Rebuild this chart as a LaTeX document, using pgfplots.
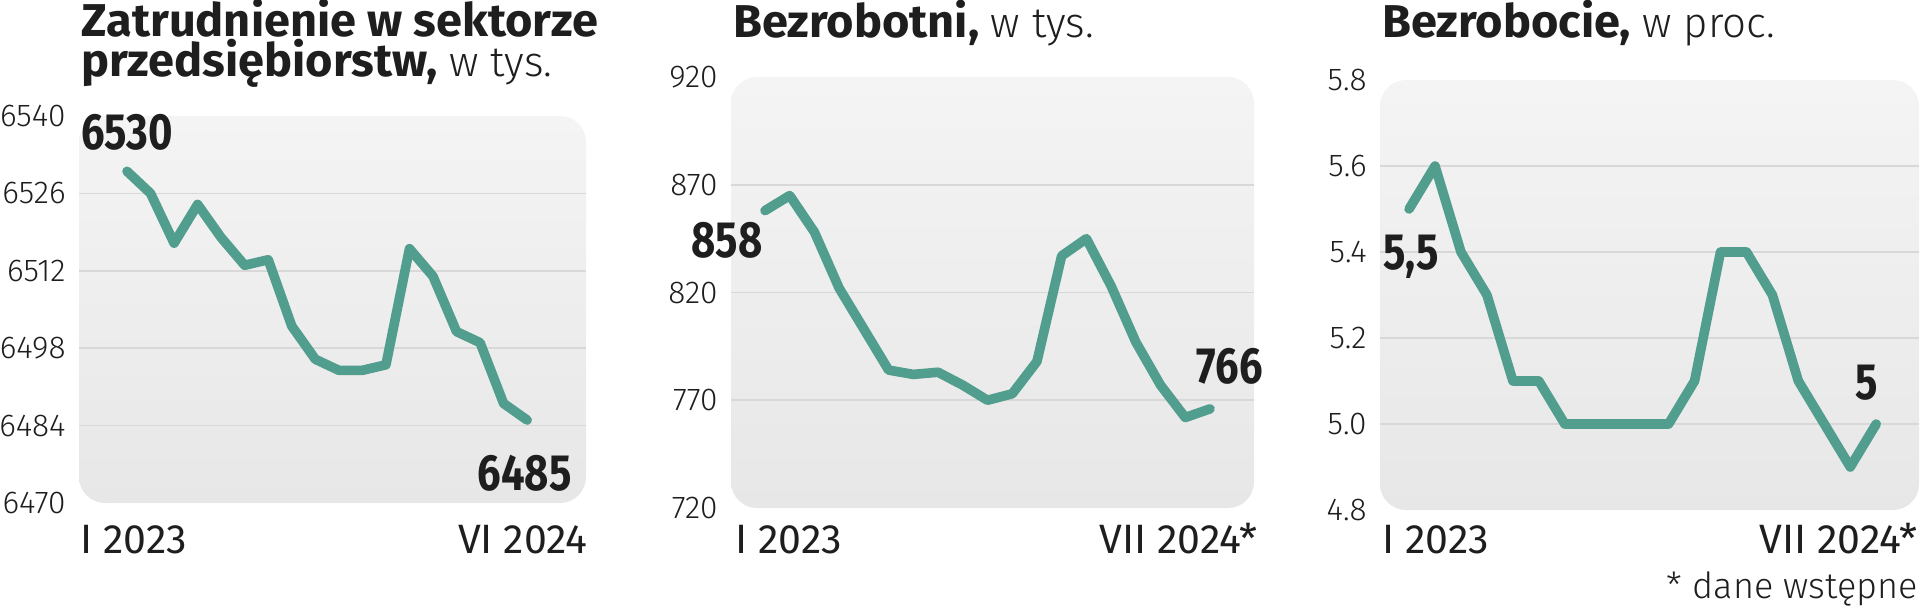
\documentclass[border=0pt]{standalone}
\usepackage{pgfplots}
\pgfplotsset{compat=1.18}
\usepackage{fontspec}
\setmainfont{Fira Sans}
\newfontfamily\lightfont{Fira Sans Light}
\newfontfamily\condfont[FakeStretch=0.82]{Fira Sans}
\newfontfamily\titlefont[FakeStretch=1.02]{Fira Sans}
\definecolor{linec}{HTML}{519D8E}
\definecolor{txt}{HTML}{1E1E1E}
\definecolor{gridc}{HTML}{D8D8D8}
\definecolor{bgtop}{HTML}{F4F4F4}
\definecolor{bgbot}{HTML}{E7E7E7}
\newcommand{\ttl}{\titlefont\bfseries\fontsize{23}{23}\selectfont}
\newcommand{\sub}{\lightfont\mdseries\fontsize{21}{21}\selectfont}
\newcommand{\bignum}{\condfont\bfseries\fontsize{25.5}{25.5}\selectfont}
\newcommand{\xl}{\fontsize{20.5}{20.5}\selectfont}
\pgfplotsset{panel/.style={
  scale only axis, clip=false,
  axis line style={draw=none}, tick style={draw=none}, major tick length=0pt,
  xtick=\empty,
  axis background/.style={shade, top color=bgtop, bottom color=bgbot, rounded corners=13pt, draw=none},
  yticklabel style={font=\lightfont\fontsize{15.8}{15.8}\selectfont, text=txt, anchor=east, inner sep=0pt, xshift=-6.5pt},
  extra y tick style={grid=major},
  extra y tick labels={},
  grid style={draw=gridc, line width=0.8pt},
}}
\begin{document}
\begin{tikzpicture}
\useasboundingbox (0,0) rectangle (960pt,303pt);
% Panel 1
\begin{axis}[panel, at={(39.5pt,51.5pt)}, anchor=south west, width=253.5pt, height=193.5pt,
  xmin=-2.04, xmax=19.5, ymin=6470, ymax=6540,
  ytick={6470,6484,6498,6512,6526,6540}, yticklabels={6470,6484,6498,6512,6526,6540},
  extra y ticks={6484,6498,6512,6526}]
\addplot[linec, line width=4.8pt, line join=round, line cap=round] coordinates {
(0,6530) (1,6526) (2,6517) (3,6524) (4,6518) (5,6513) (6,6514) (7,6502) (8,6496)
(9,6494) (10,6494) (11,6495) (12,6516) (13,6511) (14,6501) (15,6499) (16,6488) (17,6485)};
\end{axis}
% Panel 2
\begin{axis}[panel, at={(365.5pt,49pt)}, anchor=south west, width=261.5pt, height=215.5pt,
  xmin=-1.375, xmax=19.78, ymin=720, ymax=920,
  ytick={720,770,820,870,920}, yticklabels={720,770,820,870,920},
  extra y ticks={770,820,870}]
\addplot[linec, line width=4.8pt, line join=round, line cap=round] coordinates {
(0,858) (1,865) (2,848) (3,822) (4,803) (5,784) (6,782) (7,783) (8,777) (9,770)
(10,773) (11,788) (12,837) (13,845) (14,823) (15,797) (16,777) (17,762) (18,766)};
\end{axis}
% Panel 3
\begin{axis}[panel, at={(690pt,48pt)}, anchor=south west, width=269.5pt, height=215pt,
  xmin=-1.12, xmax=19.65, ymin=4.8, ymax=5.8,
  ytick={4.8,5.0,5.2,5.4,5.6,5.8}, yticklabels={4.8,5.0,5.2,5.4,5.6,5.8},
  extra y ticks={5.0,5.2,5.4,5.6}]
\addplot[linec, line width=4.8pt, line join=round, line cap=round] coordinates {
(0,5.5) (1,5.6) (2,5.4) (3,5.3) (4,5.1) (5,5.1) (6,5.0) (7,5.0) (8,5.0) (9,5.0)
(10,5.0) (11,5.1) (12,5.4) (13,5.4) (14,5.3) (15,5.1) (16,5.0) (17,4.9) (18,5.0)};
\end{axis}
% Titles
\node[anchor=base west, inner sep=0pt, text=txt] at (40.5pt,284.5pt) {\ttl Zatrudnienie w sektorze};
\node[anchor=base west, inner sep=0pt, text=txt] at (40.5pt,264.5pt) {\ttl przedsiębiorstw,\sub{} w tys.};
\node[anchor=base west, inner sep=0pt, text=txt] at (366.5pt,284pt) {\ttl Bezrobotni,\sub{} w tys.};
\node[anchor=base west, inner sep=0pt, text=txt] at (691pt,284pt) {\ttl Bezrobocie,\sub{} w proc.};
% value labels
\node[anchor=base west, inner sep=0pt, text=txt] at (40.5pt,228pt) {\bignum 6530};
\node[anchor=base east, inner sep=0pt, text=txt] at (286pt,58pt) {\bignum 6485};
\node[anchor=base east, inner sep=0pt, text=txt] at (381.5pt,174.5pt) {\bignum 858};
\node[anchor=base east, inner sep=0pt, text=txt] at (631.5pt,111.5pt) {\bignum 766};
\node[anchor=base west, inner sep=0pt, text=txt] at (691.5pt,168pt) {\bignum 5,5};
\node[anchor=base east, inner sep=0pt, text=txt] at (939pt,103.5pt) {\bignum 5};
% x labels
\node[anchor=base west, inner sep=0pt, text=txt] at (40pt,26.5pt) {\xl I 2023};
\node[anchor=base east, inner sep=0pt, text=txt] at (294pt,26.5pt) {\xl VI 2024};
\node[anchor=base west, inner sep=0pt, text=txt] at (367.5pt,26.5pt) {\xl I 2023};
\node[anchor=base east, inner sep=0pt, text=txt] at (629pt,26.5pt) {\xl VII 2024*};
\node[anchor=base west, inner sep=0pt, text=txt] at (691pt,26.5pt) {\xl I 2023};
\node[anchor=base east, inner sep=0pt, text=txt] at (959pt,26.5pt) {\xl VII 2024*};
\node[anchor=base east, inner sep=0pt, text=txt] at (959pt,4pt) {\lightfont\fontsize{18}{18}\selectfont * dane wstępne};
\end{tikzpicture}
\end{document}
